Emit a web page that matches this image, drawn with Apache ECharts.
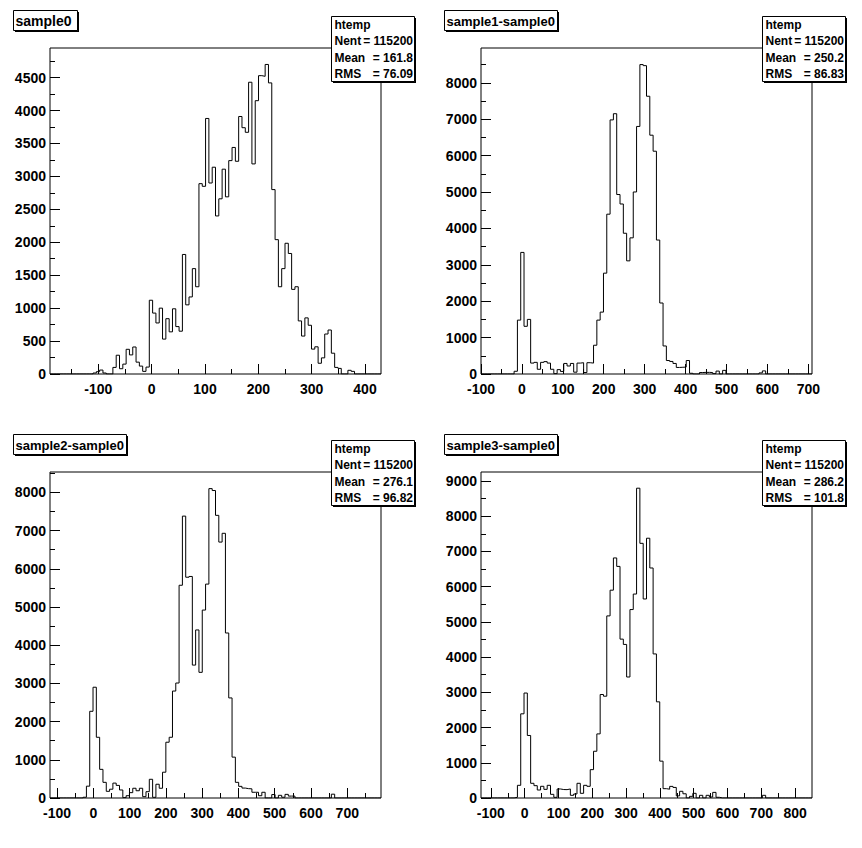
<!DOCTYPE html>
<html><head><meta charset="utf-8">
<script src="https://cdn.jsdelivr.net/npm/echarts@6/dist/echarts.min.js"></script>
<style>html,body{margin:0;padding:0;background:#fff}#c{width:862px;height:848px}</style>
</head><body><div id="c"></div>
<script>
// ---------------- data ----------------
const titles = ['sample0', 'sample1-sample0', 'sample2-sample0', 'sample3-sample0'];
const histName = 'htemp';
const nentValues = ['115200', '115200', '115200', '115200'];
const meanValues = ['161.8', '250.2', '276.1', '286.2'];
const rmsValues = ['76.09', '86.83', '96.82', '101.8'];

// histogram ranges (100 bins each)
const binRange0 = [-190.6, 430];
const binRange1 = [-100, 709];
const binRange2 = [-119.5, 793];
const binRange3 = [-129.2, 850];
const yMax0 = 4950, yMax1 = 8955, yMax2 = 8535, yMax3 = 9255;

const counts0 = [
  0,0,0,0,0,0,0,0,0,0,
  0,0,0,15,35,60,15,0,0,100,
  285,80,150,375,290,410,180,120,40,105,
  1120,925,775,1000,530,840,640,990,720,650,
  1815,1050,1170,1600,1325,2890,2850,3880,2900,3140,
  2400,2660,3110,2690,3240,3440,3230,3910,3740,3670,
  4430,3190,4150,4530,4520,4700,4420,2800,2040,1325,
  1600,1985,1830,1285,1325,806,576,852,740,378,
  413,163,245,607,668,316,100,85,0,0,
  56,40,0,0,0,0,0,0,0,0
];
const counts1 = [
  0,0,0,0,0,0,0,0,0,0,
  75,1480,3340,1310,1500,300,320,130,320,340,
  300,130,10,120,70,290,220,290,50,300,
  310,40,310,300,790,1480,1700,2770,4390,6980,
  7150,4930,4670,3866,3108,3740,5000,6800,8500,8470,
  7630,6560,6120,3680,1950,770,370,345,290,180,
  185,190,370,20,0,0,40,45,45,40,
  10,80,0,100,0,0,0,0,0,0,
  0,0,0,0,30,85,0,0,0,0,
  0,0,0,0,0,0,0,0,0,0
];
const counts2 = [
  0,0,0,0,0,0,0,0,0,0,
  20,310,2270,2900,1590,750,410,175,230,390,
  330,210,10,60,140,255,190,255,35,165,
  490,18,360,255,675,1460,1590,2800,3010,5570,
  7380,5780,5800,3480,4400,3290,4920,5600,8100,8050,
  7400,6700,6930,4320,2620,1070,410,305,260,245,
  240,150,150,60,150,0,0,90,0,70,
  20,95,50,50,0,0,0,0,0,0,
  0,0,0,0,0,100,0,0,0,0,
  0,0,0,0,0,0,0,0,0,0
];
const counts3 = [
  0,0,0,0,0,0,0,0,0,0,
  20,360,2390,2980,1775,417,350,227,332,246,
  360,104,19,256,240,237,256,76,114,417,
  133,360,332,805,1327,1820,2938,2890,5170,5900,
  6815,6575,4510,4360,3435,5350,5790,8795,7230,5650,
  7375,6530,4090,2730,1046,265,250,330,300,60,
  190,120,0,47,133,0,76,0,76,28,
  160,20,0,0,0,0,0,0,0,0,
  0,0,0,0,0,76,0,0,0,0,
  0,0,0,0,0,0,0,0,0,0
];

// tick labels / tick positions
const xMajor0 = [-100, 0, 100, 200, 300, 400];
const xMinor0 = [-150, -50, 50, 150, 250, 350];
const xMajor1 = [-100, 0, 100, 200, 300, 400, 500, 600, 700];
const xMinor1 = [-50, 50, 150, 250, 350, 450, 550, 650];
const xMajor2 = [-100, 0, 100, 200, 300, 400, 500, 600, 700];
const xMinor2 = [-50, 50, 150, 250, 350, 450, 550, 650, 750];
const xMajor3 = [-100, 0, 100, 200, 300, 400, 500, 600, 700, 800];
const xMinor3 = [-50, 50, 150, 250, 350, 450, 550, 650, 750];
const yMajor0 = [0, 500, 1000, 1500, 2000, 2500, 3000, 3500, 4000, 4500];
const yMinor0 = [250, 750, 1250, 1750, 2250, 2750, 3250, 3750, 4250, 4750];
const yMajor1 = [0, 1000, 2000, 3000, 4000, 5000, 6000, 7000, 8000];
const yMinor1 = [500, 1500, 2500, 3500, 4500, 5500, 6500, 7500, 8500];
const yMajor2 = [0, 1000, 2000, 3000, 4000, 5000, 6000, 7000, 8000];
const yMinor2 = [500, 1500, 2500, 3500, 4500, 5500, 6500, 7500, 8500];
const yMajor3 = [0, 1000, 2000, 3000, 4000, 5000, 6000, 7000, 8000, 9000];
const yMinor3 = [500, 1500, 2500, 3500, 4500, 5500, 6500, 7500, 8500];

// ---------------- layout / build ----------------
const panels = [
  {counts: counts0, range: binRange0, yMax: yMax0, xMaj: xMajor0, xMin: xMinor0, yMaj: yMajor0, yMin: yMinor0},
  {counts: counts1, range: binRange1, yMax: yMax1, xMaj: xMajor1, xMin: xMinor1, yMaj: yMajor1, yMin: yMinor1},
  {counts: counts2, range: binRange2, yMax: yMax2, xMaj: xMajor2, xMin: xMinor2, yMaj: yMajor2, yMin: yMinor2},
  {counts: counts3, range: binRange3, yMax: yMax3, xMaj: xMajor3, xMin: xMinor3, yMaj: yMajor3, yMin: yMinor3}
];
const padOrigin = [[0, 0], [431, 0], [0, 424], [431, 424]];
const titleBoxW = [64, 113, 113, 113];
const titleFont = [14, 13, 13, 13];
const FONT = '"Liberation Sans", Arial, Helvetica, sans-serif';

const grids = [], xAxes = [], yAxes = [], series = [], graphic = [];
const labelStyle = {color: '#000', fontSize: 14, fontWeight: 'bold', fontFamily: FONT, formatter: v => String(v)};
const noLine = {show: false, onZero: false};

panels.forEach((p, k) => {
  const [ox, oy] = padOrigin[k];
  grids.push({left: ox + 50, top: oy + 48, width: 331, height: 326, show: true,
    borderColor: '#000', borderWidth: 1, backgroundColor: 'transparent', containLabel: false, outerBoundsMode: 'none'});
  const [xmin, xmax] = p.range;
  xAxes.push({type: 'value', gridIndex: k, min: xmin, max: xmax, position: 'bottom',
    axisLine: noLine, splitLine: {show: false},
    axisTick: {show: true, inside: true, length: 10, lineStyle: {color: '#000', width: 1}, customValues: p.xMaj},
    axisLabel: Object.assign({show: true, margin: 8, customValues: p.xMaj}, labelStyle)});
  xAxes.push({type: 'value', gridIndex: k, min: xmin, max: xmax, position: 'bottom',
    axisLine: noLine, splitLine: {show: false}, axisLabel: {show: false},
    axisTick: {show: true, inside: true, length: 5, lineStyle: {color: '#000', width: 1}, customValues: p.xMin}});
  yAxes.push({type: 'value', gridIndex: k, min: 0, max: p.yMax, position: 'left',
    axisLine: noLine, splitLine: {show: false},
    axisTick: {show: true, inside: true, length: 10, lineStyle: {color: '#000', width: 1}, customValues: p.yMaj},
    axisLabel: Object.assign({show: true, margin: 4, customValues: p.yMaj}, labelStyle)});
  yAxes.push({type: 'value', gridIndex: k, min: 0, max: p.yMax, position: 'left',
    axisLine: noLine, splitLine: {show: false}, axisLabel: {show: false},
    axisTick: {show: true, inside: true, length: 5, lineStyle: {color: '#000', width: 1}, customValues: p.yMin}});

  const w = (xmax - xmin) / p.counts.length;
  const pts = p.counts.map((v, i) => [xmin + i * w, v]);
  pts.push([xmax, 0]);
  series.push({type: 'line', xAxisIndex: 2 * k, yAxisIndex: 2 * k, step: 'end', symbol: 'none',
    showSymbol: false, silent: true, lineStyle: {color: '#000', width: 1}, data: pts, z: 3});

  // title box
  graphic.push({type: 'rect', silent: true, z: 100, shape: {x: ox + 15, y: oy + 12, width: titleBoxW[k], height: 20}, style: {fill: '#000'}});
  graphic.push({type: 'rect', silent: true, z: 101, shape: {x: ox + 13.5, y: oy + 10.5, width: titleBoxW[k], height: 20}, style: {fill: '#fff', stroke: '#000', lineWidth: 1}});
  graphic.push({type: 'text', silent: true, z: 102, x: ox + 15.5, y: oy + 21,
    style: {text: titles[k], fill: '#000', fontSize: titleFont[k], fontWeight: 'bold', fontFamily: FONT, align: 'left', verticalAlign: 'middle'}});

  // stats box
  graphic.push({type: 'rect', silent: true, z: 100, shape: {x: ox + 333, y: oy + 18, width: 83, height: 65}, style: {fill: '#000'}});
  graphic.push({type: 'rect', silent: true, z: 101, shape: {x: ox + 331.5, y: oy + 16.5, width: 83, height: 65}, style: {fill: '#fff', stroke: '#000', lineWidth: 1}});
  const statNames = [histName, 'Nent', 'Mean', 'RMS'];
  const statVals = [null, '= ' + nentValues[k], '= ' + meanValues[k], '= ' + rmsValues[k]];
  const lineY = [25, 41, 57.5, 74];
  statNames.forEach((nm, j) => {
    graphic.push({type: 'text', silent: true, z: 102, x: ox + 334.5, y: oy + lineY[j],
      style: {text: nm, fill: '#000', fontSize: 12, fontWeight: 'bold', fontFamily: FONT, align: 'left', verticalAlign: 'middle'}});
    if (statVals[j]) {
      graphic.push({type: 'text', silent: true, z: 102, x: ox + 413, y: oy + lineY[j],
        style: {text: statVals[j], fill: '#000', fontSize: 12, fontWeight: 'bold', fontFamily: FONT, align: 'right', verticalAlign: 'middle'}});
    }
  });
});

const chart = echarts.init(document.getElementById('c'), null, {renderer: 'svg', width: 862, height: 848});
chart.setOption({
  animation: false,
  backgroundColor: '#fff',
  grid: grids, xAxis: xAxes, yAxis: yAxes, series: series, graphic: graphic
});
</script>
</body></html>
